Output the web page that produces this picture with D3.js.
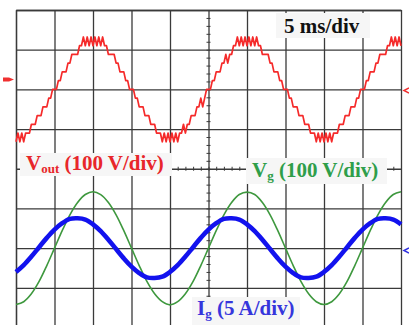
<!DOCTYPE html>
<html>
<head>
<meta charset="utf-8">
<script src="https://cdn.jsdelivr.net/npm/d3@7"></script>
<style>
  html, body { margin: 0; padding: 0; background: #fff; }
  svg { display: block; }
  .label { font-family: "Liberation Serif", "Times New Roman", serif; font-weight: bold; }
</style>
</head>
<body>
<script>
// Scope screen: 10 x 8 divisions, 5 ms/div
const timePerDiv = 5;
const divsX = 10;
const divsY = 8;

// Channels: units per div and vertical offset (div)
const channelNames = ['Vout', 'Vg', 'Ig'];
const channelScales = [100, 100, 5];
const channelOffsets = [2, -2, -2];

// Vout: staircase levels of the multilevel output, one sample every 0.25 ms
const voutStepMs = 0.25;
const voutLevelV = 22;
const voutLevels = [
  -6,-5,-6,-5,-6,-5,-5,-5,-4,-4,-4,-3,-3,-3,-2,-2,-2,-1,-1,0,0,0,1,1,2,2,2,3,3,4,4,4,4,5,5,6,5,6,5,6,5,
  6,5,6,5,6,5,5,4,4,4,4,3,3,2,2,2,1,1,0,0,0,-1,-1,-2,-2,-2,-3,-3,-3,-4,-4,-4,-5,-5,-5,-6,-5,-6,-5,
  -6,-5,-6,-5,-6,-5,-5,-4,-5,-4,-4,-3,-3,-3,-2,-2,-1,-2,-1,0,0,0,1,1,2,2,2,3,3,4,3,4,4,5,5,6,5,6,5,6,5,
  6,5,6,5,6,5,5,4,4,4,4,3,3,2,2,2,1,1,0,0,0,-1,-1,-2,-2,-2,-3,-3,-3,-4,-4,-4,-5,-5,-5,-6,-5,-6,-5,
  -6,-5,-6,-5,-6,-5,-5,-5,-4,-4,-4,-3,-3,-3,-2,-2,-2,-1,-1,0,0,0,1,1,2,2,2,3,3,4,4,4,4,5,5,6,5,6,5,6,5
];

// Vg (V) and Ig (A), one sample every 1 ms
const sampleStepMs = 1;
const vgValues = [
  -142,-135,-115,-84,-44,0,44,84,115,135,
  142,135,115,84,44,0,-44,-84,-115,-135,
  -143,-135,-115,-84,-44,0,44,84,115,135,
  141,135,115,84,44,0,-44,-84,-115,-135,
  -142,-135,-115,-84,-44,0,44,84,115,135,
  142
];
const igValues = [
  -3.0,-2.14,-1.06,0.12,1.29,2.33,3.14,3.68,3.76,3.6,
  3.0,2.14,1.06,-0.12,-1.29,-2.33,-3.14,-3.68,-3.76,-3.6,
  -3.0,-2.14,-1.06,0.12,1.29,2.33,3.14,3.68,3.76,3.6,
  3.0,2.14,1.06,-0.12,-1.29,-2.33,-3.14,-3.68,-3.76,-3.6,
  -3.0,-2.14,-1.06,0.12,1.29,2.33,3.14,3.68,3.76,3.6,
  3.0
];

const width = 409;
const height = 325;

const svg = d3.select('body')
  .append('svg')
  .attr('width', width)
  .attr('height', height);

// screen scales: time in ms, vertical in divisions
const x = d3.scaleLinear().domain([0, divsX * timePerDiv]).range([16, 401]);
const y = d3.scaleLinear().domain([-divsY / 2, divsY / 2]).range([327.5, 10]);

// graticule
svg.append('g')
  .attr('transform', `translate(0, ${y(divsY / 2)})`)
  .call(d3.axisBottom(x)
    .tickValues(d3.range(0, divsX * timePerDiv + 1, timePerDiv))
    .tickSizeInner(y(-divsY / 2) - y(divsY / 2))
    .tickSizeOuter(0)
    .tickFormat(''));

svg.append('g')
  .attr('transform', `translate(${x(0)}, 0)`)
  .call(d3.axisRight(y)
    .tickValues(d3.range(-divsY / 2, divsY / 2 + 1, 1))
    .tickSizeInner(x(divsX * timePerDiv) - x(0))
    .tickSizeOuter(0)
    .tickFormat(''));

svg.selectAll('.domain, .tick line')
  .attr('stroke', '#3a3a3a')
  .attr('stroke-width', 1.3);

// minor ticks on centre lines
svg.append('g')
  .attr('class', 'minor')
  .attr('transform', `translate(0, ${y(0) - 2})`)
  .call(d3.axisBottom(x)
    .tickValues(d3.range(0, divsX * timePerDiv + 0.01, 1))
    .tickSize(4)
    .tickFormat(''));

svg.append('g')
  .attr('class', 'minor')
  .attr('transform', `translate(${x(25) - 2}, 0)`)
  .call(d3.axisRight(y)
    .tickValues(d3.range(-divsY / 2, divsY / 2 + 0.01, 0.2))
    .tickSize(4)
    .tickFormat(''));

svg.selectAll('.minor .domain').remove();
svg.selectAll('.minor .tick line').attr('stroke', '#3a3a3a').attr('stroke-width', 1);

// traces
const toDiv = (ch, v) => channelOffsets[ch] + v / channelScales[ch];

const voutLine = d3.line()
  .x((d, i) => x(i * voutStepMs))
  .y(d => y(toDiv(0, d * voutLevelV)));

const vgLine = d3.line()
  .x((d, i) => x(i * sampleStepMs))
  .y(d => y(toDiv(1, d)))
  .curve(d3.curveCatmullRom);

const igLine = d3.line()
  .x((d, i) => x(i * sampleStepMs))
  .y(d => y(toDiv(2, d)))
  .curve(d3.curveCatmullRom);

svg.append('path')
  .attr('d', voutLine(voutLevels))
  .attr('fill', 'none')
  .attr('stroke', '#f52a2a')
  .attr('stroke-width', 1.7)
  .attr('stroke-linejoin', 'round');

svg.append('path')
  .attr('d', vgLine(vgValues))
  .attr('fill', 'none')
  .attr('stroke', '#3e983e')
  .attr('stroke-width', 1.6);

svg.append('path')
  .attr('d', igLine(igValues))
  .attr('fill', 'none')
  .attr('stroke', '#1212ee')
  .attr('stroke-width', 4.6);

// channel markers
svg.append('path')
  .attr('d', 'M3,77.5 L9,77.5 L14,79.5 L9,81.5 L3,81.5 Z')
  .attr('fill', '#f03030');
svg.append('path')
  .attr('d', 'M409,88 L404,90.5 L409,93')
  .attr('fill', 'none').attr('stroke', '#f03030').attr('stroke-width', 1.5);
svg.append('path')
  .attr('d', 'M409,248 L404,250.5 L409,253')
  .attr('fill', 'none').attr('stroke', '#3030e0').attr('stroke-width', 1.5);

// labels
function addLabel(box, tx, ty, color, parts) {
  svg.append('rect')
    .attr('x', box[0]).attr('y', box[1])
    .attr('width', box[2]).attr('height', box[3])
    .attr('fill', '#f6f6f6');
  const t = svg.append('text')
    .attr('class', 'label')
    .attr('x', tx).attr('y', ty)
    .attr('fill', color)
    .attr('font-size', 21);
  parts.forEach(p => {
    t.append('tspan')
      .attr('font-size', p.sub ? 13 : 21)
      .attr('dy', p.dy || 0)
      .text(p.text);
  });
}

addLabel([276, 13, 94, 25], 284, 33, '#111', [{ text: '5 ms/div' }]);
addLabel([20, 153, 152, 23], 26, 170, '#e8262a',
  [{ text: 'V' }, { text: 'out', sub: true, dy: 3 }, { text: ' (100 V/div)', dy: -3 }]);
addLabel([246, 158, 141, 26], 252, 177, '#2f9e4a',
  [{ text: 'V' }, { text: 'g', sub: true, dy: 3 }, { text: ' (100 V/div)', dy: -3 }]);
addLabel([192, 297, 108, 28], 197, 315, '#3636dc',
  [{ text: 'I' }, { text: 'g', sub: true, dy: 3 }, { text: ' (5 A/div)', dy: -3 }]);
</script>
</body>
</html>
